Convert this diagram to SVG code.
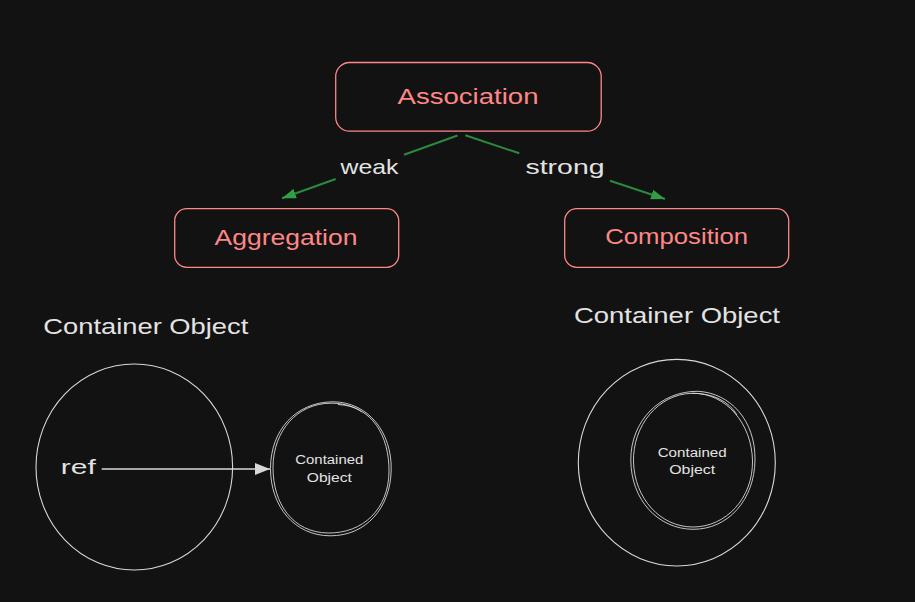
<svg xmlns="http://www.w3.org/2000/svg" width="915" height="602" viewBox="0 0 915 602">
<defs>
<style>
.bg{fill:#121212}
.box{fill:none;stroke:#ff8787;stroke-width:1.3}
.t{font-family:"Liberation Sans","DejaVu Sans",sans-serif;text-anchor:middle}
.red{fill:#ff8787;font-size:22px}
.lt{fill:#e3e3e3}
.ring{fill:none;stroke:#d8d8d8;stroke-width:1.1}
.sk{fill:none;stroke:#d8d8d8;stroke-width:0.9}
.green{fill:none;stroke:#2b8a3e;stroke-width:2}
.ref{fill:none;stroke:#d8d8d8;stroke-width:1.5}
</style>
<marker id="ag" viewBox="0 0 14 10" refX="14" refY="5" markerWidth="14" markerHeight="10" markerUnits="userSpaceOnUse" orient="auto">
<path d="M0,0 L14,5 L0,10 Z" fill="#2f9e44"/>
</marker>
<marker id="aw" viewBox="0 0 15 12" refX="15" refY="6" markerWidth="15" markerHeight="12" markerUnits="userSpaceOnUse" orient="auto">
<path d="M0,0 L15,6 L0,12 Z" fill="#d8d8d8"/>
</marker>
</defs>
<rect class="bg" x="0" y="0" width="915" height="602"/>

<g id="connectors">
<path class="green" d="M457.5,135.5 L404,154.7"/>
<path class="green" d="M335.7,179 L282,198.3" marker-end="url(#ag)"/>
<path class="green" d="M465.3,135.3 L519.3,153.3"/>
<path class="green" d="M610,180.7 L665,199" marker-end="url(#ag)"/>
<text class="t lt" x="369.5" y="173.5" font-size="21" textLength="58" lengthAdjust="spacingAndGlyphs">weak</text>
<text class="t lt" x="565" y="174" font-size="21" textLength="79" lengthAdjust="spacingAndGlyphs">strong</text>
<path class="ref" d="M101.7,469 L270,469" marker-end="url(#aw)"/>
</g>

<g id="association">
<rect class="box" x="335.7" y="62.5" width="265.5" height="68.7" rx="14"/>
<text class="t red" x="468" y="104" textLength="141" lengthAdjust="spacingAndGlyphs">Association</text>
</g>

<g id="aggregation">
<rect class="box" x="174.7" y="208.7" width="224" height="58.6" rx="12"/>
<text class="t red" x="286" y="245" textLength="143" lengthAdjust="spacingAndGlyphs">Aggregation</text>
</g>

<g id="composition">
<rect class="box" x="564.7" y="208.7" width="224" height="58.6" rx="12"/>
<text class="t red" x="676.7" y="244" textLength="143" lengthAdjust="spacingAndGlyphs">Composition</text>
</g>

<g id="aggregation-container">
<text class="t lt" x="145.8" y="334.3" font-size="22" textLength="205" lengthAdjust="spacingAndGlyphs">Container Object</text>
<ellipse class="ring" cx="134.3" cy="467" rx="98.3" ry="103"/>
<text class="t lt" x="78.3" y="474" font-size="21" textLength="35" lengthAdjust="spacingAndGlyphs">ref</text>
</g>

<g id="aggregation-contained">
<path class="sk" d="M333,401.8 C368,402 392,432 391.2,470 C390.5,508 366,536 330,535.8 C294,535.5 270.5,506 270.5,468.5 C270.5,430 296,402 333,401.8"/>
<path class="sk" d="M338,404.5 C372,406 389.5,436 389,472 C388.5,509 363,533.5 328,533 C293,532.5 272.8,504 273,467 C273.3,431 297,403.3 331,403.2 C345,403.2 355,407 362,412"/>
<text class="t lt" x="329.3" y="464.3" font-size="12.5" textLength="68" lengthAdjust="spacingAndGlyphs">Contained</text>
<text class="t lt" x="329.3" y="481.7" font-size="12.5" textLength="45" lengthAdjust="spacingAndGlyphs">Object</text>
</g>

<g id="composition-container">
<text class="t lt" x="677" y="323.3" font-size="22" textLength="206" lengthAdjust="spacingAndGlyphs">Container Object</text>
<ellipse class="ring" cx="676.8" cy="462.7" rx="98.5" ry="103.3"/>
</g>

<g id="composition-contained">
<path class="sk" d="M698,391.3 C730,393 755.5,420 755,460 C754.5,500 728,529.5 693,529.3 C658,529 631,500 630.8,460 C630.6,421 660,391 698,391.3"/>
<path class="sk" d="M692,393.3 C726,392.5 752,424 752.5,461 C753,498 726,527 693,527 C660,527 634.5,498 633.5,462 C632.5,426 658,394 692,393.3 C712,393 729,401 737,415"/>
<text class="t lt" x="692.2" y="456.7" font-size="12.5" textLength="69" lengthAdjust="spacingAndGlyphs">Contained</text>
<text class="t lt" x="692.2" y="474" font-size="12.5" textLength="46" lengthAdjust="spacingAndGlyphs">Object</text>
</g>
</svg>
